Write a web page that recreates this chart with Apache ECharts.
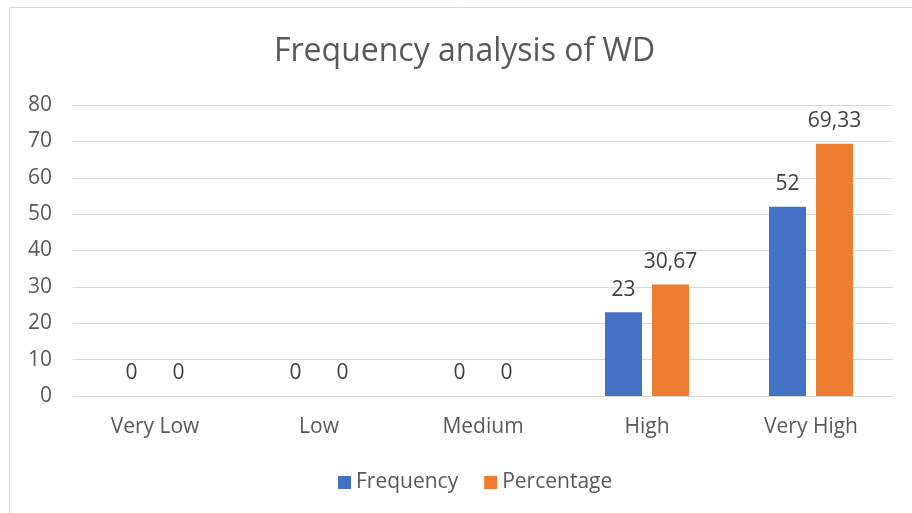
<!DOCTYPE html>
<html>
<head>
<meta charset="utf-8">
<script src="https://cdn.jsdelivr.net/npm/echarts@6/dist/echarts.min.js"></script>
<style>
html,body{margin:0;padding:0;background:#fff;}
#c{width:912px;height:513px;}
</style>
</head>
<body>
<div id="c"></div>
<script>
const categories = ['Very Low', 'Low', 'Medium', 'High', 'Very High'];
const frequency = [0, 0, 0, 23, 52];
const percentage = [0, 0, 0, 30.67, 69.33];
const yTicks = { min: 0, max: 80, interval: 10 };

const FONT = '"Open Sans", Lato, sans-serif';
const chart = echarts.init(document.getElementById('c'));
const labelCfg = {
  show: true,
  position: 'top',
  distance: 12,
  color: '#404040',
  fontSize: 21,
  fontFamily: FONT,
  formatter: p => String(p.value).replace('.', ',')
};
chart.setOption({
  animation: false,
  backgroundColor: '#fff',
  graphic: [{
    type: 'rect',
    shape: { x: 9.5, y: 7.5, width: 1000, height: 1000 },
    style: { fill: 'none', stroke: '#d9d9d9', lineWidth: 1 },
    silent: true
  }],
  title: {
    text: 'Frequency analysis of WD',
    left: 269,
    top: 31,
    textStyle: { color: '#595959', fontSize: 32, fontWeight: 'normal', fontFamily: FONT }
  },
  legend: {
    bottom: 15,
    left: 333,
    itemWidth: 13,
    itemHeight: 13,
    itemGap: 26,
    icon: 'rect',
    textStyle: { color: '#595959', fontSize: 21, fontFamily: FONT },
    data: ['Frequency', 'Percentage']
  },
  grid: { left: 73, right: 19, top: 105, bottom: 117 },
  xAxis: {
    type: 'category',
    data: categories,
    axisLine: { lineStyle: { color: '#d9d9d9', width: 1 } },
    axisTick: { show: false },
    axisLabel: { color: '#595959', fontSize: 21, fontFamily: FONT, margin: 21 }
  },
  yAxis: {
    type: 'value',
    min: yTicks.min, max: yTicks.max, interval: yTicks.interval,
    axisLine: { show: false },
    axisTick: { show: false },
    splitLine: { lineStyle: { color: '#d9d9d9', width: 1 } },
    axisLabel: { color: '#595959', fontSize: 21, fontFamily: FONT, margin: 21, align: 'right' }
  },
  series: [
    { name: 'Frequency', type: 'bar', data: frequency, barWidth: 37, barGap: '27%',
      itemStyle: { color: '#4472c4' }, label: labelCfg },
    { name: 'Percentage', type: 'bar', data: percentage, barWidth: 37, barGap: '27%',
      itemStyle: { color: '#ed7d31' }, label: labelCfg }
  ]
});
</script>
</body>
</html>
